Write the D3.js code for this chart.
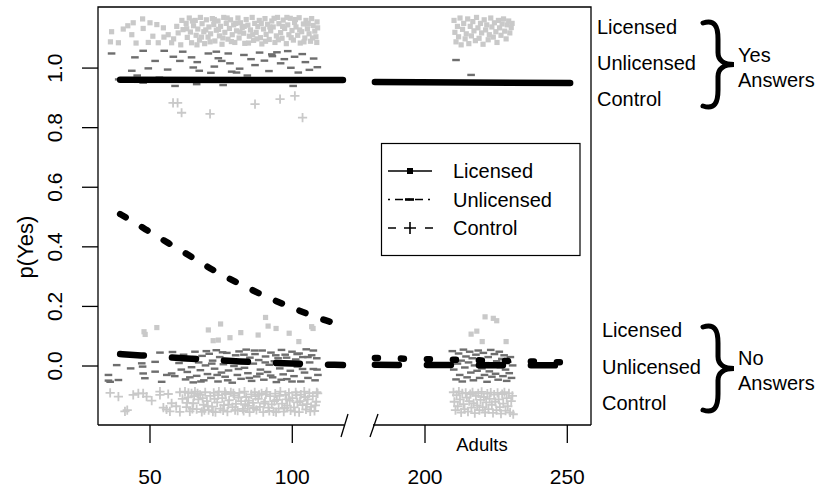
<!DOCTYPE html>
<html><head><meta charset="utf-8">
<script src="https://cdn.jsdelivr.net/npm/d3@7"></script>
<style>
body{margin:0;background:#fff;}
text{font-family:"Liberation Sans",Arial,Helvetica,sans-serif;fill:#000;}
</style></head>
<body>
<svg id="chart" width="822" height="489"></svg>
<script>
// ---------- DATA ----------
const yTicks = [0, 0.2, 0.4, 0.6, 0.8, 1.0];
const yTickLabels = ["0.0","0.2","0.4","0.6","0.8","1.0"];
const xTicksLeft = [50, 100];
const xTicksRight = [200, 250];
const legendLabels = ["Licensed", "Unlicensed", "Control"];

// fitted lines
const licensedLineLeft = [[39.5,0.961],[117.8,0.960]];
const licensedLineRight = [[182.4,0.953],[251,0.950]];
const controlCurveLeft = [[39.5,0.510],[41.2,0.501],[48.9,0.456],[56.3,0.413],[64.8,0.366],[72.1,0.321],[80.6,0.280],[88.6,0.242],[97.4,0.205],[105.5,0.174],[114.3,0.144],[117.8,0.138]];
const noLineLeft = [[39.5,0.040],[44.7,0.037],[63,0.025],[81.6,0.015],[99.9,0.008],[117.8,0.003]];
const noLineRightLow = [[182.4,0.004],[251,0.002]];
const noLineRightHigh = [[182.4,0.027],[251,0.012]];

// jittered responses, left panel (children)
const licensedYesLeft = [[36.5,1.122],[36.1,1.088],[38.9,1.085],[40.6,1.131],[42.2,1.142],[43.6,1.112],[44.1,1.152],[45.1,1.084],[47.4,1.165],[47.6,1.133],[49.4,1.086],[50.0,1.152],[51.0,1.107],[52.4,1.146],[52.9,1.085],[54.7,1.135],[54.9,1.104],[56.4,1.112],[57.6,1.085],[58.3,1.098],[59.4,1.140],[59.9,1.118],[60.8,1.078],[61.2,1.160],[61.6,1.129],
[62.7,1.150],[63.1,1.103],[63.8,1.168],[64.2,1.121],[64.6,1.085],[65.3,1.142],[65.9,1.160],[66.2,1.110],[66.8,1.131],[67.4,1.094],[67.7,1.170],[68.3,1.149],[68.9,1.122],[69.2,1.082],[69.8,1.162],[70.4,1.104],[70.7,1.138],[71.3,1.115],[71.9,1.166],[72.4,1.146],[72.8,1.091],[73.3,1.127],[73.9,1.158],[74.4,1.108],[74.8,1.140],[75.3,1.080],[75.9,1.170],[76.3,1.120],[76.8,1.150],[77.4,1.097],[77.9,1.133],[78.3,1.162],[78.9,1.112],[79.4,1.145],[79.8,1.086],[80.4,1.125],[80.9,1.168],[81.3,1.101],[81.8,1.152],[82.4,1.136],[82.9,1.117],[83.3,1.083],[83.8,1.163],[84.4,1.144],[84.9,1.107],[85.3,1.128],[85.9,1.170],[86.4,1.093],[86.8,1.150],[87.3,1.120],[87.9,1.139],[88.4,1.160],[88.8,1.102],[89.3,1.081],[89.9,1.131],[90.4,1.166],[90.8,1.113],[91.3,1.147],[91.9,1.096],[92.4,1.125],[92.8,1.158],[93.3,1.138],[93.9,1.086],[94.4,1.108],[94.8,1.170],[95.3,1.149],[95.9,1.119],[96.4,1.100],[96.8,1.161],[97.3,1.133],[97.9,1.082],[98.4,1.145],[98.8,1.112],[99.3,1.167],[99.9,1.126],[100.4,1.094],[100.8,1.153],[101.3,1.138],[101.9,1.110],[102.4,1.169],[102.8,1.084],[103.3,1.122],[103.9,1.148],[104.4,1.101],[104.8,1.160],[105.3,1.132],[105.9,1.115],[106.4,1.090],[106.8,1.166],[107.3,1.143],[107.9,1.124],[108.3,1.105],[108.7,1.155],[108.9,1.135],
[62.9,1.132],[64.9,1.158],[66.5,1.078],[68.1,1.104],[69.6,1.128],[71.1,1.088],[72.6,1.163],[74.1,1.130],[75.6,1.101],[77.1,1.168],[78.6,1.089],[80.1,1.150],[81.6,1.121],[83.1,1.140],[84.6,1.084],[86.1,1.112],[87.6,1.098],[89.1,1.150],[90.6,1.090],[92.1,1.138],[93.6,1.167],[95.1,1.095],[96.6,1.140],[98.1,1.170],[99.6,1.102],[101.1,1.163],[102.6,1.128],[104.1,1.088],[105.6,1.150],[107.1,1.101],[108.6,1.086]];

const unlicensedYesLeft = [[36.5,1.049],[44.7,1.036],[47.6,1.058],[43.6,0.991],[49.4,0.999],[51.8,1.024],[55.0,1.058],[58.2,1.038],[60.5,1.024],[61.5,1.055],[64.6,1.036],[65.2,1.002],[67.3,0.991],[66.6,1.020],[70.5,1.049],[71.4,0.984],[74.0,1.033],[75.2,1.024],[77.5,1.049],[78.1,1.016],[78.7,0.988],[80.4,0.985],[58.8,0.940],[66.4,0.946],[75.7,0.943],[100.3,0.940],[47.6,0.951],[83.0,1.044],[85.5,1.030],[86.9,1.010],[88.5,1.052],[90.2,1.025],[91.8,0.990],[93.0,1.040],[94.6,1.053],[95.9,1.016],[97.2,1.030],[98.4,1.057],[99.5,1.001],[100.8,1.038],[102.1,0.985],[103.5,1.047],[104.6,1.020],[106.0,0.994],[107.5,1.032],[108.8,1.003],[62.8,0.965],[69.0,0.962],[72.6,1.005],[81.5,0.998],[84.2,0.975],[88.0,0.962],[96.5,0.965],[56.2,0.995],[53.3,0.968],[45.5,0.975],[39.0,0.962],[70.0,0.958],[92.8,1.046],[73.3,1.055]];

const controlYesLeft = [[58.1,0.883],[59.7,0.883],[61.1,0.850],[71.1,0.846],[86.9,0.879],[95.7,0.896],[100.9,0.907],[103.6,0.834]];

const licensedNoLeft = [[47.9,0.115],[48.3,0.106],[52.4,0.129],[70.5,0.121],[72.2,0.085],[74.0,0.087],[74.8,0.141],[78.1,0.095],[81.9,0.112],[88.0,0.104],[90.6,0.163],[91.5,0.134],[94.3,0.126],[98.9,0.110],[102.3,0.082],[106.8,0.132],[107.3,0.126]];

const unlicensedNoLeft = [[35.4,-0.030],[35.4,-0.049],[36.0,-0.053],[38.3,0.003],[38.9,-0.047],[43.2,-0.008],[47.4,-0.002],[47.6,-0.025],[48.2,-0.041],[47.1,0.009],[51.8,-0.019],[51.8,0.014],[54.1,-0.053],[55.9,-0.030],[57.6,-0.025],[58.7,-0.034],[53.5,0.045],[57.9,0.047],[60.2,0.010],[61.0,-0.012],[61.8,0.038],[62.5,-0.045],[63.1,-0.020],[63.9,0.026],[64.6,-0.004],[65.2,-0.055],[65.8,0.048],[66.4,-0.033],[67.1,0.012],[67.7,-0.014],[68.3,0.034],[68.9,-0.048],[69.5,0.002],[70.2,-0.027],[70.8,0.041],[71.4,-0.040],[72.0,0.018],[72.7,-0.009],[73.3,0.053],[73.9,-0.052],[74.5,0.030],[75.1,-0.022],[75.8,0.006],[76.4,-0.036],[77.0,0.044],[77.6,-0.015],[78.2,0.022],[78.9,-0.056],[79.5,0.000],[80.1,0.036],[80.7,-0.030],[81.3,0.049],[82.0,-0.043],[82.6,0.014],[83.2,-0.006],[83.8,0.055],[84.4,-0.024],[85.1,0.028],[85.7,-0.050],[86.3,0.008],[86.9,0.040],[87.5,-0.035],[88.2,0.020],[88.8,-0.012],[89.4,0.052],[90.0,-0.046],[90.6,0.032],[91.3,-0.020],[91.9,0.004],[92.5,0.045],[93.1,-0.038],[93.7,0.016],[94.4,-0.054],[95.0,0.026],[95.6,-0.008],[96.2,0.054],[96.8,-0.028],[97.5,0.038],[98.1,-0.044],[98.7,0.010],[99.3,-0.016],[99.9,0.048],[100.6,-0.034],[101.2,0.022],[101.8,-0.002],[102.4,0.042],[103.0,-0.052],[103.7,0.030],[104.3,-0.022],[104.9,0.056],[105.5,-0.040],[106.1,0.012],[106.8,0.036],[107.4,-0.010],[108.0,-0.048],[108.6,0.026],[109.0,-0.030],
[62.2,0.020],[64.0,-0.038],[66.0,0.030],[67.9,-0.052],[69.8,0.050],[71.7,0.008],[73.6,-0.030],[75.5,0.046],[77.3,-0.048],[79.2,0.014],[81.1,-0.010],[83.0,0.038],[84.9,-0.040],[86.7,0.052],[88.6,-0.026],[90.5,0.012],[92.4,-0.032],[94.2,0.036],[96.1,-0.046],[98.0,0.028],[99.9,-0.052],[101.7,0.040],[103.6,-0.010],[105.5,0.030],[107.4,0.052],[108.7,-0.012]];

const controlNoLeft = [[36.0,-0.090],[38.9,-0.103],[41.2,-0.152],[42.0,-0.148],[44.1,-0.097],[45.9,-0.092],[47.6,-0.092],[48.8,-0.103],[50.6,-0.116],[53.5,-0.086],[53.5,-0.097],[56.4,-0.094],[54.7,-0.140],[57.6,-0.125],[57.0,-0.152],[60.5,-0.154],[60.5,-0.088],[62.3,-0.086],[63.5,-0.090],[55.8,-0.146],[59.2,-0.135],[61.4,-0.110],
[62.8,-0.138],[63.4,-0.105],[64.0,-0.152],[64.6,-0.092],[65.2,-0.125],[65.8,-0.086],[66.4,-0.145],[67.0,-0.112],[67.6,-0.097],[68.2,-0.154],[68.8,-0.130],[69.4,-0.088],[70.0,-0.118],[70.6,-0.148],[71.2,-0.100],[71.8,-0.136],[72.4,-0.090],[73.0,-0.155],[73.6,-0.122],[74.2,-0.086],[74.8,-0.143],[75.4,-0.108],[76.0,-0.131],[76.6,-0.094],[77.2,-0.153],[77.8,-0.115],[78.4,-0.088],[79.0,-0.138],[79.6,-0.099],[80.2,-0.127],[80.8,-0.150],[81.4,-0.090],[82.0,-0.118],[82.6,-0.144],[83.2,-0.086],[83.8,-0.104],[84.4,-0.134],[85.0,-0.155],[85.6,-0.095],[86.2,-0.124],[86.8,-0.088],[87.4,-0.147],[88.0,-0.110],[88.6,-0.137],[89.2,-0.092],[89.8,-0.155],[90.4,-0.120],[91.0,-0.087],[91.6,-0.140],[92.2,-0.101],[92.8,-0.129],[93.4,-0.152],[94.0,-0.093],[94.6,-0.114],[95.2,-0.143],[95.8,-0.086],[96.4,-0.126],[97.0,-0.153],[97.6,-0.097],[98.2,-0.133],[98.8,-0.090],[99.4,-0.149],[100.0,-0.108],[100.6,-0.139],[101.2,-0.088],[101.8,-0.122],[102.4,-0.155],[103.0,-0.096],[103.6,-0.131],[104.2,-0.086],[104.8,-0.146],[105.4,-0.112],[106.0,-0.091],[106.6,-0.137],[107.2,-0.101],[107.8,-0.151],[108.4,-0.120],[108.9,-0.092],
[63.0,-0.124],[64.9,-0.144],[66.7,-0.092],[68.5,-0.108],[70.3,-0.135],[72.1,-0.153],[73.9,-0.098],[75.7,-0.149],[77.5,-0.130],[79.3,-0.092],[81.1,-0.106],[82.9,-0.151],[84.7,-0.116],[86.5,-0.141],[88.3,-0.097],[90.1,-0.126],[91.9,-0.151],[93.7,-0.118],[95.5,-0.100],[97.3,-0.141],[99.1,-0.116],[100.9,-0.153],[102.7,-0.118],[104.5,-0.104],[106.3,-0.152],[108.1,-0.132],
[65.5,-0.101],[69.1,-0.148],[72.7,-0.110],[76.3,-0.087],[79.9,-0.148],[83.5,-0.128],[87.1,-0.101],[90.7,-0.095],[94.3,-0.155],[97.9,-0.112],[101.5,-0.098],[105.1,-0.128],[108.6,-0.088]];

// right panel (adults)
const licensedYesRight = [[210.2,1.160],[210.5,1.120],[210.9,1.088],[211.4,1.140],[211.8,1.105],[212.3,1.168],[212.7,1.078],[213.2,1.130],[213.6,1.150],[214.1,1.098],[214.5,1.115],[215.0,1.165],[215.4,1.082],[215.9,1.140],[216.3,1.108],[216.8,1.156],[217.2,1.125],[217.7,1.092],[218.1,1.170],[218.6,1.135],[219.0,1.100],[219.5,1.150],[219.9,1.118],[220.4,1.080],[220.8,1.162],[221.3,1.128],[221.7,1.145],[222.2,1.095],[222.6,1.112],[223.1,1.168],[223.5,1.138],[224.0,1.104],[224.4,1.152],[224.9,1.122],[225.3,1.086],[225.8,1.160],[226.2,1.135],[226.7,1.110],[227.1,1.148],[227.6,1.165],[228.0,1.124],[228.5,1.098],[228.9,1.145],[229.4,1.158],[229.8,1.118],[230.3,1.136],[230.6,1.150]];
const unlicensedYesRight = [[210.9,1.027],[216.2,0.977]];
const licensedNoRight = [[221.1,0.165],[224.0,0.160],[225.2,0.152],[216.2,0.107],[218.2,0.117],[220.1,0.082],[228.5,0.082]];
const unlicensedNoRight = [[209.6,0.050],[210.1,-0.012],[210.5,0.025],[210.9,-0.045],[211.4,0.008],[211.8,0.042],[212.2,-0.030],[212.7,0.018],[213.1,-0.052],[213.5,0.055],[214.0,-0.005],[214.4,0.032],[214.8,-0.038],[215.3,0.012],[215.7,0.048],[216.1,-0.022],[216.6,0.026],[217.0,-0.048],[217.4,0.002],[217.9,0.038],[218.3,-0.016],[218.7,0.052],[219.2,-0.040],[219.6,0.020],[220.0,-0.008],[220.5,0.044],[220.9,-0.030],[221.3,0.010],[221.8,-0.053],[222.2,0.030],[222.6,-0.018],[223.1,0.054],[223.5,-0.036],[223.9,0.006],[224.4,0.040],[224.8,-0.026],[225.2,0.016],[225.7,-0.046],[226.1,0.048],[226.5,-0.004],[227.0,0.024],[227.4,-0.034],[227.8,0.036],[228.3,-0.012],[228.7,-0.050],[229.1,0.014],[229.6,-0.024],[230.0,0.030],[230.4,-0.040],[230.8,0.002]];
const controlNoRight = [[210.0,-0.088],[210.3,-0.120],[210.7,-0.148],[211.1,-0.098],[211.5,-0.135],[211.9,-0.086],[212.3,-0.112],[212.7,-0.156],[213.1,-0.092],[213.5,-0.128],[213.9,-0.145],[214.3,-0.090],[214.7,-0.106],[215.1,-0.153],[215.5,-0.118],[215.9,-0.094],[216.3,-0.140],[216.7,-0.088],[217.1,-0.125],[217.5,-0.158],[217.9,-0.100],[218.3,-0.132],[218.7,-0.092],[219.1,-0.148],[219.5,-0.114],[219.9,-0.087],[220.3,-0.138],[220.7,-0.104],[221.1,-0.156],[221.5,-0.122],[221.9,-0.093],[222.3,-0.145],[222.7,-0.110],[223.1,-0.089],[223.5,-0.130],[223.9,-0.157],[224.3,-0.096],[224.7,-0.120],[225.1,-0.148],[225.5,-0.090],[225.9,-0.112],[226.3,-0.138],[226.7,-0.160],[227.1,-0.094],[227.5,-0.126],[227.9,-0.088],[228.3,-0.150],[228.7,-0.108],[229.1,-0.135],[229.5,-0.092],[229.9,-0.156],[230.3,-0.118],[230.7,-0.100],[231.0,-0.162]];

// ---------- DRAW ----------
const svg = d3.select("#chart");
const L = 98, R = 591, T = 7, B = 425;
const y = d3.scaleLinear().domain([-0.198, 1.205]).range([B, T]);
const xL = d3.scaleLinear().domain([50, 100]).range([150, 292.3]);
const xR = d3.scaleLinear().domain([200, 250]).range([425, 567.3]);

const light = "#c9c9c9", dark = "#6e6e6e";

function squares(data, xs) {
  svg.append("g").selectAll("rect").data(data).join("rect")
    .attr("x", d => xs(d[0]) - 2.6).attr("y", d => y(d[1]) - 2.6)
    .attr("width", 5.2).attr("height", 5.2).attr("fill", light);
}
function dashes(data, xs) {
  svg.append("g").selectAll("rect").data(data).join("rect")
    .attr("x", d => xs(d[0]) - 3.8).attr("y", d => y(d[1]) - 1.2)
    .attr("width", 7.6).attr("height", 2.4).attr("fill", dark);
}
function pluses(data, xs) {
  svg.append("g").selectAll("path").data(data).join("path")
    .attr("d", d => { const cx = xs(d[0]), cy = y(d[1]); return `M${cx-4.6},${cy}H${cx+4.6}M${cx},${cy-4.6}V${cy+4.6}`; })
    .attr("stroke", light).attr("stroke-width", 1.8).attr("fill", "none");
}

squares(licensedYesLeft, xL); squares(licensedNoLeft, xL);
squares(licensedYesRight, xR); squares(licensedNoRight, xR);
pluses(controlYesLeft, xL); pluses(controlNoLeft, xL); pluses(controlNoRight, xR);
dashes(unlicensedYesLeft, xL); dashes(unlicensedNoLeft, xL);
dashes(unlicensedYesRight, xR); dashes(unlicensedNoRight, xR);

function line(data, xs, dash, curve) {
  const g = d3.line().x(d => xs(d[0])).y(d => y(d[1])).curve(curve || d3.curveLinear);
  svg.append("path").datum(data).attr("d", g).attr("fill", "none")
    .attr("stroke", "#000").attr("stroke-width", 6.5)
    .attr("stroke-linecap", dash ? "round" : "round")
    .attr("stroke-dasharray", dash || null);
}
line(licensedLineLeft, xL);
line(licensedLineRight, xR);
line(controlCurveLeft, xL, "6.5 19", d3.curveBasis);
line(noLineLeft, xL, "24 28", d3.curveBasis);
line(noLineRightHigh, xR, "3 23");
line(noLineRightLow, xR, "24 28");

// frame
const frame = svg.append("g").attr("stroke", "#000").attr("stroke-width", 1.3).attr("fill", "none");
frame.append("path").attr("d", `M${L},${B}V${T}H${R}V${B}`);
frame.append("line").attr("x1", L).attr("x2", 344).attr("y1", B).attr("y2", B);
frame.append("line").attr("x1", 373).attr("x2", R).attr("y1", B).attr("y2", B);
frame.append("line").attr("x1", 341).attr("y1", 437).attr("x2", 348).attr("y2", 414);
frame.append("line").attr("x1", 370).attr("y1", 437).attr("x2", 378).attr("y2", 414);

// x axis ticks
const xt = [...xTicksLeft.map(v => [xL(v), v]), ...xTicksRight.map(v => [xR(v), v])];
svg.append("g").selectAll("line").data(xt).join("line")
  .attr("x1", d => d[0]).attr("x2", d => d[0]).attr("y1", B).attr("y2", B + 18)
  .attr("stroke", "#000").attr("stroke-width", 1.3);
svg.append("g").selectAll("text").data(xt).join("text")
  .attr("x", d => d[0]).attr("y", 484).attr("text-anchor", "middle")
  .attr("font-size", 21).text(d => d[1]);

// y axis
svg.append("g").selectAll("line").data(yTicks).join("line")
  .attr("x1", L - 16).attr("x2", L).attr("y1", d => y(d)).attr("y2", d => y(d))
  .attr("stroke", "#000").attr("stroke-width", 1.3);
svg.append("g").selectAll("text").data(yTicks).join("text")
  .attr("transform", d => `translate(62,${y(d)}) rotate(-90)`)
  .attr("text-anchor", "middle").attr("font-size", 21)
  .text((d, i) => yTickLabels[i]);
svg.append("text").attr("transform", "translate(33,247) rotate(-90)")
  .attr("text-anchor", "middle").attr("font-size", 22).text("p(Yes)");

svg.append("text").attr("x", 482).attr("y", 451).attr("text-anchor", "middle")
  .attr("font-size", 18.5).text("Adults");

// legend
const lg = svg.append("g");
lg.append("rect").attr("x", 381.5).attr("y", 143.5).attr("width", 198.5).attr("height", 112)
  .attr("fill", "#fff").attr("stroke", "#000").attr("stroke-width", 1.2);
const ly = [171, 199.5, 228];
lg.append("line").attr("x1", 388).attr("x2", 432).attr("y1", ly[0]).attr("y2", ly[0]).attr("stroke", "#000").attr("stroke-width", 1.4);
lg.append("rect").attr("x", 407).attr("y", ly[0] - 3).attr("width", 6).attr("height", 6).attr("fill", "#000");
lg.append("line").attr("x1", 388).attr("x2", 433).attr("y1", ly[1]).attr("y2", ly[1]).attr("stroke", "#000").attr("stroke-width", 1.4).attr("stroke-dasharray", "2 5 8 5");
lg.append("rect").attr("x", 405).attr("y", ly[1] - 1.3).attr("width", 9).attr("height", 2.6).attr("fill", "#000");
lg.append("line").attr("x1", 388).attr("x2", 433).attr("y1", ly[2]).attr("y2", ly[2]).attr("stroke", "#000").attr("stroke-width", 1.4).attr("stroke-dasharray", "8 29 8");
lg.append("path").attr("d", `M404,${ly[2]}H416M410,${ly[2]-6}V${ly[2]+6}`).attr("stroke", "#000").attr("stroke-width", 1.6);
lg.selectAll("text.lab").data(legendLabels).join("text").attr("class", "lab")
  .attr("x", 453).attr("y", (d, i) => ly[i] + 7).attr("font-size", 20).text(d => d);

// right annotations
function brace(x0, y0, y1) {
  const m = (y0 + y1) / 2, xm = x0 + 15, xt2 = x0 + 31;
  return `M${x0},${y0+2} C${x0+12},${y0-2} ${xm},${y0+6} ${xm},${y0+18} L${xm},${m-12} C${xm},${m-4} ${xm+6},${m} ${xt2},${m}`
       + ` C${xm+6},${m} ${xm},${m+4} ${xm},${m+12} L${xm},${y1-18} C${xm},${y1-6} ${x0+12},${y1+2} ${x0},${y1-2}`;
}
svg.append("path").attr("d", brace(703, 21, 108)).attr("fill", "none").attr("stroke", "#000").attr("stroke-width", 5).attr("stroke-linecap", "round");
svg.append("path").attr("d", brace(703, 325, 412)).attr("fill", "none").attr("stroke", "#000").attr("stroke-width", 5).attr("stroke-linecap", "round");

const annYes = [27, 63, 99], annNo = [330, 367, 403];
svg.append("g").selectAll("text").data(legendLabels).join("text")
  .attr("x", 597).attr("y", (d, i) => annYes[i] + 7).attr("font-size", 20).text(d => d);
svg.append("g").selectAll("text").data(legendLabels).join("text")
  .attr("x", 602).attr("y", (d, i) => annNo[i] + 7).attr("font-size", 20).text(d => d);
svg.append("text").attr("x", 738).attr("y", 62).attr("font-size", 20).text("Yes");
svg.append("text").attr("x", 738).attr("y", 87).attr("font-size", 20).text("Answers");
svg.append("text").attr("x", 738).attr("y", 365).attr("font-size", 20).text("No");
svg.append("text").attr("x", 738).attr("y", 390).attr("font-size", 20).text("Answers");
</script>
</body></html>
